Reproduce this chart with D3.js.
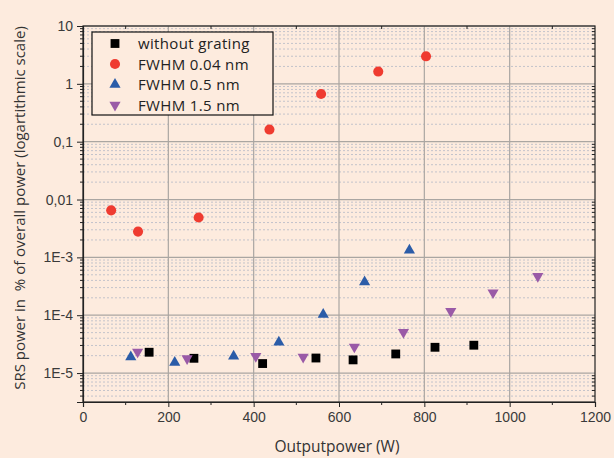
<!DOCTYPE html>
<html>
<head>
<meta charset="utf-8">
<script src="https://cdn.jsdelivr.net/npm/d3@7"></script>
<style>
  body { margin: 0; background: #fdebde; }
  svg { display: block; font-family: "Open Sans", "Noto Sans", sans-serif; }
</style>
</head>
<body>
<svg id="chart" width="614" height="458"></svg>
<script>
// data (x = output power in W, y = SRS power in %)
const withoutGrating = [
  [155, 2.29e-5], [260, 1.80e-5], [421, 1.46e-5], [546, 1.82e-5],
  [633, 1.69e-5], [733, 2.14e-5], [825, 2.79e-5], [916, 3.03e-5]
];
const fwhm004 = [
  [66, 6.5e-3], [129, 2.79e-3], [271, 4.88e-3], [437, 0.162],
  [558, 0.668], [692, 1.63], [804, 2.99]
];
const fwhm05 = [
  [112, 1.9e-5], [215, 1.52e-5], [353, 1.95e-5], [459, 3.41e-5],
  [563, 1.03e-4], [660, 3.76e-4], [765, 1.33e-3]
];
const fwhm15 = [
  [128, 2.32e-5], [244, 1.78e-5], [405, 1.95e-5], [516, 1.9e-5],
  [636, 2.83e-5], [751, 5.07e-5], [862, 1.17e-4], [961, 2.46e-4], [1066, 4.71e-4]
];
const xTicks = [0, 200, 400, 600, 800, 1000, 1200];
const yTickValues = [1e-5, 1e-4, 1e-3, 0.01, 0.1, 1, 10];
const yTickLabels = ["1E-5", "1E-4", "1E-3", "0,01", "0,1", "1", "10"];

const series = [
  { name: "without grating", data: withoutGrating, shape: "square", color: "#000000" },
  { name: "FWHM 0.04 nm", data: fwhm004, shape: "circle", color: "#ef3b30" },
  { name: "FWHM 0.5 nm", data: fwhm05, shape: "up", color: "#2b5ca8" },
  { name: "FWHM 1.5 nm", data: fwhm15, shape: "down", color: "#9a5aa7" }
];

const svg = d3.select("#chart");
const margin = { top: 26, right: 19, bottom: 56, left: 83 };
const width = 614 - margin.left - margin.right;
const height = 458 - margin.top - margin.bottom;

const x = d3.scaleLinear().domain([0, 1200]).range([0, width]);
const y = d3.scaleLog().domain([3.16e-6, 10]).range([height, 0]);

const g = svg.append("g").attr("transform", `translate(${margin.left},${margin.top})`);

// minor log values (2..9 of each decade)
const minorY = [];
for (let e = -6; e <= 0; e++) {
  for (let m = 2; m <= 9; m++) {
    const v = m * Math.pow(10, e);
    if (v >= 3.16e-6 && v <= 10) minorY.push(v);
  }
}
const minorX = d3.range(100, 1200, 200);

// dotted minor grid
g.append("g").selectAll("line").data(minorY).enter().append("line")
  .attr("x1", 0).attr("x2", width)
  .attr("y1", d => y(d)).attr("y2", d => y(d))
  .attr("stroke", "#c3c3cb").attr("stroke-width", 1)
  .attr("stroke-dasharray", "2,2");

// major grid
g.append("g").selectAll("line").data(yTickValues).enter().append("line")
  .attr("x1", 0).attr("x2", width)
  .attr("y1", d => y(d)).attr("y2", d => y(d))
  .attr("stroke", "#aaa6a2").attr("stroke-width", 1.2);
g.append("g").selectAll("line").data(xTicks.slice(1, -1)).enter().append("line")
  .attr("y1", 0).attr("y2", height)
  .attr("x1", d => x(d)).attr("x2", d => x(d))
  .attr("stroke", "#aaa6a2").attr("stroke-width", 1.2);

// frame
g.append("rect").attr("width", width).attr("height", height)
  .attr("fill", "none").attr("stroke", "#222").attr("stroke-width", 1.2);

// axes
const xAxis = g.append("g").attr("transform", `translate(0,${height})`)
  .call(d3.axisBottom(x).tickValues(xTicks).tickFormat(d3.format("d"))
    .tickSize(5).tickPadding(5));
xAxis.append("g").selectAll("line").data(minorX).enter().append("line")
  .attr("x1", d => x(d)).attr("x2", d => x(d)).attr("y1", 0).attr("y2", 3)
  .attr("stroke", "#222");

const yAxis = g.append("g")
  .call(d3.axisLeft(y).tickValues(yTickValues)
    .tickFormat((d, i) => yTickLabels[i]).tickSize(6).tickPadding(4));
yAxis.append("g").selectAll("line").data(minorY).enter().append("line")
  .attr("x1", -3).attr("x2", 0).attr("y1", d => y(d)).attr("y2", d => y(d))
  .attr("stroke", "#222");

// inner ticks on top and right
g.append("g").selectAll("line").data(minorX).enter().append("line")
  .attr("x1", d => x(d)).attr("x2", d => x(d)).attr("y1", 0).attr("y2", 3)
  .attr("stroke", "#222");
g.append("g").selectAll("line").data(minorY).enter().append("line")
  .attr("x1", width - 3).attr("x2", width).attr("y1", d => y(d)).attr("y2", d => y(d))
  .attr("stroke", "#222");

[xAxis, yAxis].forEach(a => {
  a.select(".domain").attr("stroke", "#222").attr("stroke-width", 1.2);
  a.selectAll(".tick line").attr("stroke", "#222");
  a.selectAll(".tick text").attr("fill", "#3a3a3a").style("font-size", "14px");
});

// markers
function symbolPath(shape) {
  if (shape === "square") return d3.symbol().type(d3.symbolSquare).size(78)();
  if (shape === "circle") return d3.symbol().type(d3.symbolCircle).size(80)();
  return d3.symbol().type(d3.symbolTriangle).size(54)();
}
function symbolTransform(shape, px, py) {
  return shape === "down" ? `translate(${px},${py}) rotate(180)` : `translate(${px},${py})`;
}

series.forEach(s => {
  g.append("g").selectAll("path").data(s.data).enter().append("path")
    .attr("d", symbolPath(s.shape))
    .attr("transform", d => symbolTransform(s.shape, x(d[0]), y(d[1])))
    .attr("fill", s.color);
});

// legend
const legend = svg.append("g").attr("transform", "translate(92,32)");
legend.append("rect").attr("width", 181).attr("height", 83)
  .attr("fill", "#fdebde").attr("stroke", "#111").attr("stroke-width", 1.2);
series.forEach((s, i) => {
  const ly = 11.5 + i * 20.5;
  legend.append("path")
    .attr("d", symbolPath(s.shape))
    .attr("transform", symbolTransform(s.shape, 23, ly))
    .attr("fill", s.color);
  legend.append("text")
    .attr("x", 46).attr("y", ly + 5.5)
    .attr("fill", "#222").style("font-size", "15px")
    .style("letter-spacing", "0.35px")
    .text(s.name);
});

// axis titles
svg.append("text")
  .attr("x", margin.left + width / 2 - 2).attr("y", 452)
  .attr("text-anchor", "middle").attr("fill", "#333")
  .style("font-size", "15.5px")
  .text("Outputpower (W)");

svg.append("text")
  .attr("transform", "translate(25,208) rotate(-90)")
  .attr("text-anchor", "middle").attr("fill", "#333")
  .style("font-size", "15px")
  .style("white-space", "pre")
  .text("SRS power in  % of overall power (logartithmic scale)");
</script>
</body>
</html>
